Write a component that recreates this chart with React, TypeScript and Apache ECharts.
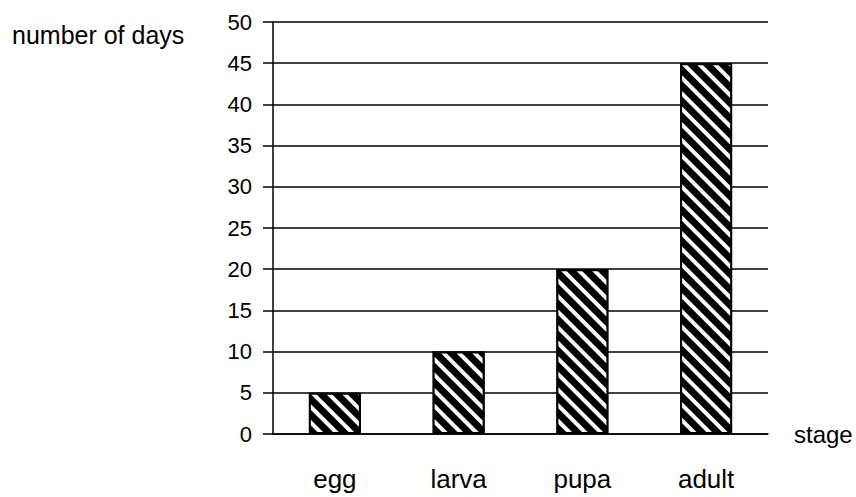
import React, { useEffect, useRef } from "react";
import * as echarts from "echarts";

const stages = ["egg", "larva", "pupa", "adult"];
const days = [5, 10, 20, 45];
const yAxisTitle = "number of days";
const xAxisTitle = "stage";

export default function App() {
  const ref = useRef<HTMLDivElement>(null);
  useEffect(() => {
    if (!ref.current) return;
    const chart = echarts.init(ref.current, null, { renderer: "svg" });
    const font = "'Liberation Sans', Arial, sans-serif";
    chart.setOption({
      animation: false,
      backgroundColor: "#fff",
      grid: { left: 273, right: 88, top: 22, bottom: 63, containLabel: false },
      graphic: [
        {
          type: "text",
          left: 12,
          top: 22,
          style: { text: yAxisTitle, fill: "#000", fontSize: 25, fontFamily: font },
        },
      ],
      xAxis: {
        type: "category",
        data: stages,
        name: xAxisTitle,
        nameLocation: "end",
        nameGap: 26,
        nameTextStyle: { color: "#000", fontSize: 24, fontFamily: font },
        axisLine: { show: true, lineStyle: { color: "#000", width: 1.5 } },
        axisTick: { show: false },
        axisLabel: { color: "#000", fontSize: 26, fontFamily: font, margin: 32 },
        splitLine: { show: false },
      },
      yAxis: {
        type: "value",
        min: 0,
        max: 50,
        interval: 5,
        axisLine: { show: true, lineStyle: { color: "#000", width: 1.5 } },
        axisTick: { show: true, length: 10, inside: false, lineStyle: { color: "#000", width: 1.5 } },
        axisLabel: { color: "#000", fontSize: 22, fontFamily: font, margin: 21 },
        splitLine: { show: true, lineStyle: { color: "#000", width: 1.5 } },
      },
      series: [
        {
          type: "bar",
          data: days,
          barWidth: 52,
          itemStyle: {
            color: "#000",
            borderColor: "#000",
            borderWidth: 2,
            decal: {
              symbol: "rect",
              symbolSize: 1,
              color: "#fff",
              dashArrayX: [[1, 0]],
              dashArrayY: [4, 7],
              rotation: Math.PI / 4,
            },
          },
        },
      ],
    });
    return () => chart.dispose();
  }, []);
  return <div ref={ref} style={{ width: 856, height: 497, position: "absolute", left: 0, top: 0 }} />;
}
